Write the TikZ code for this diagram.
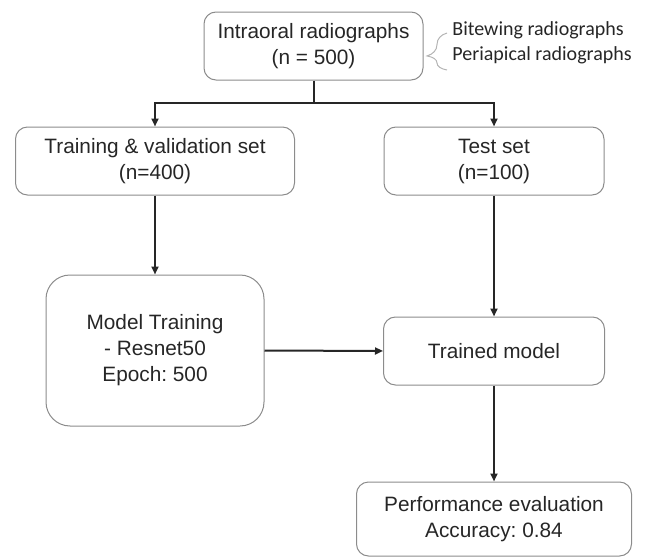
\documentclass[tikz,border=0pt]{standalone}
\usepackage{fontspec}
\setmainfont{Liberation Sans}
\newfontfamily\notefont{Carlito}
\frenchspacing
\definecolor{BoxGray}{HTML}{8C8C8C}
\definecolor{TextGray}{HTML}{262626}
\definecolor{BraceGray}{HTML}{B4B4B4}
\usetikzlibrary{arrows.meta, decorations.pathreplacing}

\begin{document}
\begin{tikzpicture}[x=0.5pt, y=-0.5pt,
        box/.style={draw=BoxGray, line width=0.5pt, rounded corners=6pt, align=center, inner sep=0pt, text=TextGray, font=\fontsize{10.4}{13}\selectfont},
        arr/.style={-{Triangle[length=4pt, width=3.5pt]}, line width=1pt, TextGray},
        note/.style={anchor=west, inner sep=0pt, text=TextGray, font=\notefont\fontsize{10}{12}\selectfont}
    ]
        \useasboundingbox (0,0) rectangle (649,557);

        \node[box, minimum width=109.5pt, minimum height=34pt] (raw) at (313.5, 46) {Intraoral radiographs\\(n = 500)};
        \node[box, minimum width=139.5pt, minimum height=34pt] (train) at (155, 161) {Training \& validation set\\(n=400)};
        \node[box, minimum width=110pt, minimum height=34pt] (test) at (494, 161) {Test set\\(n=100)};
        \node[box, minimum width=109pt, minimum height=75.5pt, rounded corners=12pt] (model) at (155, 350.5) {Model Training\\- Resnet50\\Epoch: 500};
        \node[box, minimum width=110.5pt, minimum height=34pt] (trained) at (494, 351) {Trained model};
        \node[box, minimum width=137.5pt, minimum height=37pt] (perf) at (494, 519) {Performance evaluation\\Accuracy: 0.84};

        % types of radiographs
        \node[note] (bw) at (452, 30) {Bitewing radiographs};
        \node[note] (pa) at (452, 55) {Periapical radiographs};
        \coordinate (braceTop) at (447, 33);
        \coordinate (braceBot) at (447, 70);
        \draw[BraceGray, line width=0.5pt, decorate, decoration={brace, amplitude=10pt, aspect=0.38}] (braceBot) -- (braceTop);

        \coordinate (split) at (313.5, 103);
        \draw[line width=1pt, TextGray] (raw.south) -- (split);
        \draw[arr] (split) -| (train.north);
        \draw[arr] (split) -| (test.north);
        \draw[arr] (train.south) -- (model.north);
        \draw[arr] (test.south) -- (trained.north);
        \draw[arr] (model.east) -- (trained.west);
        \draw[arr] (trained.south) -- (perf.north);
    \end{tikzpicture}
\end{document}
